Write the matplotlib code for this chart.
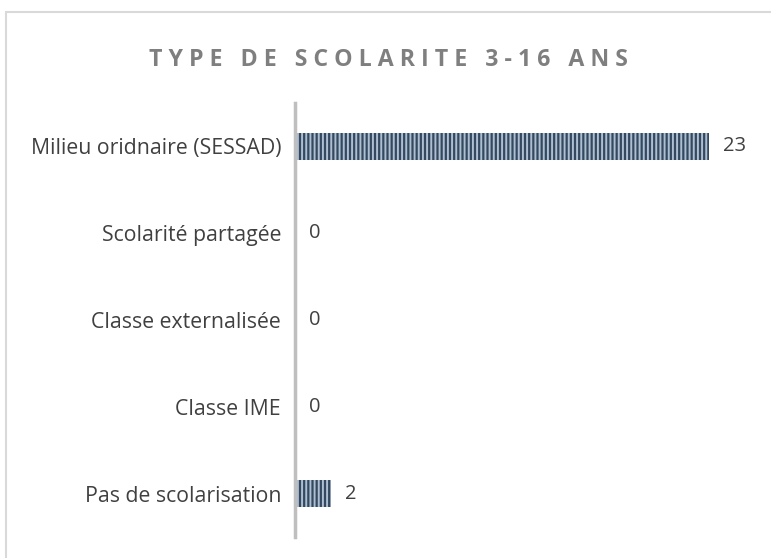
import matplotlib.pyplot as plt
from matplotlib.patches import Rectangle

# data
categories = ['Milieu oridnaire (SESSAD)', 'Scolarité partagée', 'Classe externalisée',
              'Classe IME', 'Pas de scolarisation']
values = [23, 0, 0, 0, 2]
title = 'TYPE DE SCOLARITE 3-16 ANS'

plt.rcParams['font.family'] = ['Open Sans', 'DejaVu Sans']
plt.rcParams['hatch.linewidth'] = 1.4

W, H = 771, 558
fig = plt.figure(figsize=(W / 100, H / 100), dpi=100)

# light gray frame (only top and left visible in the crop)
fig.patches.append(Rectangle((6 / W, -0.05), 1.1, 1 - 12 / H + 0.05, transform=fig.transFigure,
                             fill=False, edgecolor='#d9d9d9', linewidth=1.5))

left, right = 295 / W, 760 / W
bottom, top = 1 - 537 / H, 1 - 103 / H
ax = fig.add_axes([left, bottom, right - left, top - bottom])

xmax = (760 - 295) / 18.0
y = list(range(len(categories)))[::-1]
ax.barh(y, values, height=0.31, color='#34495f', edgecolor='#aebfd1',
        linewidth=0, hatch='||||')
ax.set_xlim(0, xmax)
ax.set_ylim(-0.5, len(categories) - 0.5)

ax.set_yticks(y)
ax.set_yticklabels(categories, fontsize=15.3, color='#404040')
ax.tick_params(axis='y', length=0, pad=10)
ax.set_xticks([])
for s in ['top', 'right', 'bottom']:
    ax.spines[s].set_visible(False)
ax.spines['left'].set_color('#bfbfbf')
ax.spines['left'].set_linewidth(2.5)
ax.spines['left'].set_zorder(3)

for yi, v in zip(y, values):
    ax.annotate(str(v), (v, yi), xytext=(10, 0), textcoords='offset points',
                va='center', ha='left', fontsize=14.5, color='#404040')

spaced = '   '.join(' '.join(w) for w in title.split(' '))
fig.text(388 / W, 1 - 60 / H, spaced, ha='center', va='center', fontsize=16.7,
         fontweight='bold', color='#7f7f7f')

fig.savefig('out.png', dpi=100)
